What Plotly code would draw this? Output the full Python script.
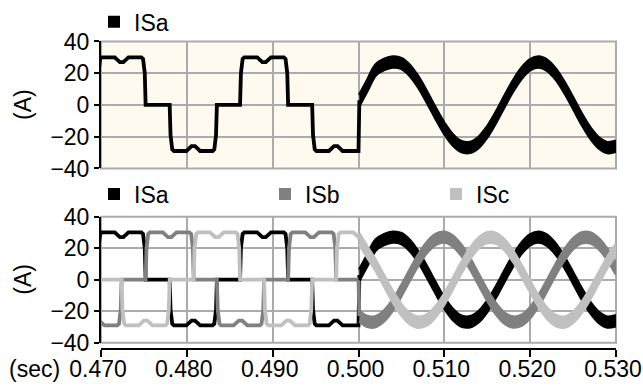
import plotly.graph_objects as go

# ---------------- data ----------------
# six-step (square-wave) part, 0.470 .. 0.500 s
T_ISA_STEP = [0.4696, 0.4697, 0.4699, 0.4701, 0.4716, 0.4722, 0.4726, 0.4732, 0.4747, 0.4749, 0.4751, 0.4752,
              0.4780, 0.4781, 0.4783, 0.4785, 0.47995, 0.48055, 0.48095, 0.48155, 0.4830, 0.4832, 0.4834, 0.4835,
              0.4862, 0.4863, 0.4865, 0.4867, 0.4882, 0.4888, 0.4892, 0.4898, 0.4913, 0.4915, 0.4917, 0.4918,
              0.4946, 0.4947, 0.4949, 0.4951, 0.49655, 0.49715, 0.49755, 0.49815, 0.5000, 0.5001]
ISA_STEP = [0, 20, 29, 30, 30, 27, 27, 30, 30, 29, 20, 0,
            0, -19, -28, -29, -29, -26, -26, -29, -29, -28, -19, 0,
            0, 20, 29, 30, 30, 27, 27, 30, 30, 29, 20, 0,
            0, -19, -28, -29, -29, -26, -26, -29, -29, 3]

T_ISB_STEP = [0.4690, 0.4698, 0.4704, 0.4719, 0.4721, 0.4723, 0.4724,
              0.4752, 0.4753, 0.4755, 0.4757, 0.4772, 0.4778, 0.4782, 0.4788, 0.4803, 0.4805, 0.4807, 0.4808,
              0.4835, 0.4836, 0.4838, 0.4840, 0.48545, 0.48605, 0.48645, 0.48705, 0.4885, 0.4887, 0.4889, 0.4890,
              0.4918, 0.4919, 0.4921, 0.4923, 0.4938, 0.4944, 0.4948, 0.4954, 0.4969, 0.4971, 0.4973, 0.4974,
              0.5000, 0.5001]
ISB_STEP = [-26, -26, -29, -29, -28, -19, 0,
            0, 20, 29, 30, 30, 27, 27, 30, 30, 29, 20, 0,
            0, -19, -28, -29, -29, -26, -26, -29, -29, -28, -19, 0,
            0, 20, 29, 30, 30, 27, 27, 30, 30, 29, 20, 0,
            0, -23]

T_ISC_STEP = [0.4690,
              0.4724, 0.4725, 0.4727, 0.4729, 0.4744, 0.4750, 0.4754, 0.4760, 0.4775, 0.4777, 0.4779, 0.4780,
              0.4808, 0.4809, 0.4811, 0.4813, 0.4827, 0.4833, 0.4837, 0.4843, 0.4857, 0.4859, 0.4861, 0.4862,
              0.4890, 0.4891, 0.4893, 0.4895, 0.4910, 0.4916, 0.4920, 0.4926, 0.4941, 0.4943, 0.4945, 0.4946,
              0.4974, 0.4975, 0.4977, 0.4979, 0.4994, 0.5000, 0.5001]
ISC_STEP = [0,
            0, -19, -28, -29, -29, -26, -26, -29, -29, -28, -19, 0,
            0, 20, 29, 30, 30, 27, 27, 30, 30, 29, 20, 0,
            0, -19, -28, -29, -29, -26, -26, -29, -29, -28, -19, 0,
            0, 20, 29, 30, 30, 27, 26]

# sinusoidal part, 0.500 .. 0.530 s (centre of the ripple band)
T_SINE = [0.5001, 0.501, 0.502, 0.503, 0.504, 0.505, 0.506, 0.507, 0.508, 0.509, 0.510,
          0.511, 0.512, 0.513, 0.514, 0.515, 0.516, 0.517, 0.518, 0.519, 0.520,
          0.521, 0.522, 0.523, 0.524, 0.525, 0.526, 0.527, 0.528, 0.529, 0.530]
ISA_SINE = [3, 12, 22, 25.5, 27, 26.1, 21.6, 14.2, 4.7, -5.4, -14.8, -22.1, -26.3, -26.7, -23.5, -16.9,
            -7.9, 2.2, 11.9, 20.0, 25.3, 27.0, 24.9, 19.3, 11.0, 1.2, -8.9, -17.6, -23.9, -26.9, -26.0]
ISB_SINE = [-23, -26.5, -26.6, -22.9, -16.1, -6.9, 3.2, 12.8, 20.7, 25.6, 27.0, 24.5, 18.6, 10.1, 0.1,
            -9.8, -18.4, -24.4, -26.9, -25.7, -20.9, -13.1, -3.4, 6.7, 15.8, 22.8, 26.5, 26.5, 22.8, 15.9, 6.7]
ISC_SINE = [26, 17.8, 9.1, -0.9, -10.8, -19.1, -24.8, -27.0, -25.4, -20.2, -12.2, -2.4, 7.7, 16.7, 23.3,
            26.7, 26.3, 22.2, 15.0, 5.7, -4.4, -13.9, -21.5, -26.0, -26.9, -23.9, -17.6, -8.9, 1.1, 11.0, 19.3]
RIPPLE = 3.3  # half-height of the PWM ripple band (A)

X_TICKS = [0.470, 0.480, 0.490, 0.500, 0.510, 0.520, 0.530]
X_TICK_LABELS = ["0.470", "0.480", "0.490", "0.500", "0.510", "0.520", "0.530"]
Y_TICKS = [-40, -20, 0, 20, 40]
SERIES = ["ISa", "ISb", "ISc"]

# ---------------- styling ----------------
W, H = 643, 387
COL = {"ISa": "#000000", "ISb": "#808080", "ISc": "#C0C0C0"}
GRID = "#ABABAB"
CREAM = "#FFFAEF"
FONT = "Liberation Sans, Arial, sans-serif"
FS = 23


def px_x(p):
    return p / W


def px_y(p):
    return 1 - p / H


L_PX, R_PX = 101, 616
TOP_T, TOP_B = 36, 165
BOT_T, BOT_B = 214, 342
XDOM = [px_x(L_PX), px_x(R_PX)]
TOP_DOM = [px_y(TOP_B), px_y(TOP_T)]
BOT_DOM = [px_y(BOT_B), px_y(BOT_T)]

fig = go.Figure()


def add_step(x, y, name, xa, ya):
    fig.add_trace(go.Scatter(x=x, y=y, mode="lines", line=dict(color=COL[name], width=3.8),
                             xaxis=xa, yaxis=ya, showlegend=False, hoverinfo="skip"))


def add_band(y, name, xa, ya):
    lo = [v - RIPPLE for v in y]
    hi = [v + RIPPLE for v in y]
    fig.add_trace(go.Scatter(x=T_SINE, y=lo, mode="lines", line=dict(color=COL[name], width=3, shape="spline"),
                             xaxis=xa, yaxis=ya, showlegend=False, hoverinfo="skip"))
    fig.add_trace(go.Scatter(x=T_SINE, y=hi, mode="lines", line=dict(color=COL[name], width=3, shape="spline"),
                             fill="tonexty", fillcolor=COL[name],
                             xaxis=xa, yaxis=ya, showlegend=False, hoverinfo="skip"))


# top panel
add_step(T_ISA_STEP, ISA_STEP, "ISa", "x", "y")
add_band(ISA_SINE, "ISa", "x", "y")

# bottom panel
add_step(T_ISA_STEP, ISA_STEP, "ISa", "x2", "y2")
add_step(T_ISB_STEP, ISB_STEP, "ISb", "x2", "y2")
add_step(T_ISC_STEP, ISC_STEP, "ISc", "x2", "y2")
add_band(ISA_SINE, "ISa", "x2", "y2")
add_band(ISB_SINE, "ISb", "x2", "y2")
add_band(ISC_SINE, "ISc", "x2", "y2")

# legend entries (square swatches)
fig.add_trace(go.Scatter(x=[None], y=[None], mode="markers", name="ISa",
                         marker=dict(symbol="square", size=12, color=COL["ISa"]),
                         xaxis="x", yaxis="y", legend="legend"))
for s in SERIES:
    fig.add_trace(go.Scatter(x=[None], y=[None], mode="markers", name=s,
                             marker=dict(symbol="square", size=12, color=COL[s]),
                             xaxis="x2", yaxis="y2", legend="legend2"))

axis_font = dict(family=FONT, size=FS, color="#000000")
common_y = dict(range=[-40, 40], tickvals=Y_TICKS, ticks="outside", ticklen=5, tickwidth=2,
                tickcolor="#000000", showline=True, linecolor="#000000", linewidth=2,
                showgrid=True, gridcolor=GRID, gridwidth=2, zeroline=False,
                tickfont=axis_font, automargin=False)

fig.update_layout(
    width=W, height=H,
    margin=dict(l=0, r=0, t=0, b=0),
    paper_bgcolor="#FFFFFF", plot_bgcolor="rgba(0,0,0,0)",
    font=dict(family=FONT, size=FS, color="#000000"),
    xaxis=dict(domain=XDOM, range=[0.470, 0.530], tickvals=X_TICKS, showticklabels=False,
               ticks="", showgrid=True, gridcolor=GRID, gridwidth=2, zeroline=False,
               showline=False, anchor="y", automargin=False),
    yaxis=dict(domain=TOP_DOM, anchor="x", **common_y),
    xaxis2=dict(domain=XDOM, range=[0.470, 0.530], tickvals=X_TICKS, ticktext=X_TICK_LABELS,
                ticks="outside", ticklen=7, tickwidth=2, tickcolor="#000000",
                showline=True, linecolor="#000000", linewidth=2,
                showgrid=True, gridcolor=GRID, gridwidth=2, zeroline=False,
                anchor="free", position=px_y(348), tickfont=axis_font, automargin=False,
                ticklabelstandoff=-7, ticklabelshift=-3, ticklabeloverflow="allow"),
    yaxis2=dict(domain=BOT_DOM, anchor="x2", **common_y),
    legend=dict(x=px_x(94), y=px_y(16), xanchor="left", yanchor="middle", orientation="h",
                font=dict(family=FONT, size=FS, color="#000000"), bgcolor="rgba(0,0,0,0)",
                borderwidth=0, itemclick=False, itemdoubleclick=False),
    legend2=dict(x=px_x(94), y=px_y(191), xanchor="left", yanchor="middle", orientation="h",
                 entrywidth=126, entrywidthmode="pixels",
                 font=dict(family=FONT, size=FS, color="#000000"), bgcolor="rgba(0,0,0,0)",
                 borderwidth=0, itemclick=False, itemdoubleclick=False),
    shapes=[
        dict(type="rect", xref="paper", yref="paper", x0=XDOM[0], x1=XDOM[1], y0=TOP_DOM[0], y1=TOP_DOM[1],
             fillcolor=CREAM, line=dict(width=0), layer="below"),
        dict(type="rect", xref="paper", yref="paper", x0=XDOM[0], x1=XDOM[1], y0=TOP_DOM[0], y1=TOP_DOM[1],
             fillcolor="rgba(0,0,0,0)", line=dict(color=GRID, width=2), layer="below"),
        dict(type="rect", xref="paper", yref="paper", x0=XDOM[0], x1=XDOM[1], y0=BOT_DOM[0], y1=BOT_DOM[1],
             fillcolor="rgba(0,0,0,0)", line=dict(color=GRID, width=2), layer="below"),
    ],
    annotations=[
        dict(text="(A)", x=px_x(23), y=px_y(100.5), xref="paper", yref="paper", textangle=-90,
             xanchor="center", yanchor="middle",
             showarrow=False, font=dict(family=FONT, size=FS, color="#000000")),
        dict(text="(A)", x=px_x(23), y=px_y(278), xref="paper", yref="paper", textangle=-90,
             xanchor="center", yanchor="middle",
             showarrow=False, font=dict(family=FONT, size=FS, color="#000000")),
        dict(text="(sec)", x=px_x(34.5), y=px_y(369), xref="paper", yref="paper",
             xanchor="center", yanchor="middle",
             showarrow=False, font=dict(family=FONT, size=FS, color="#000000")),
    ],
)

fig.write_html("out.html", config={"displayModeBar": False},
               post_script="document.body.style.margin='0px';")
